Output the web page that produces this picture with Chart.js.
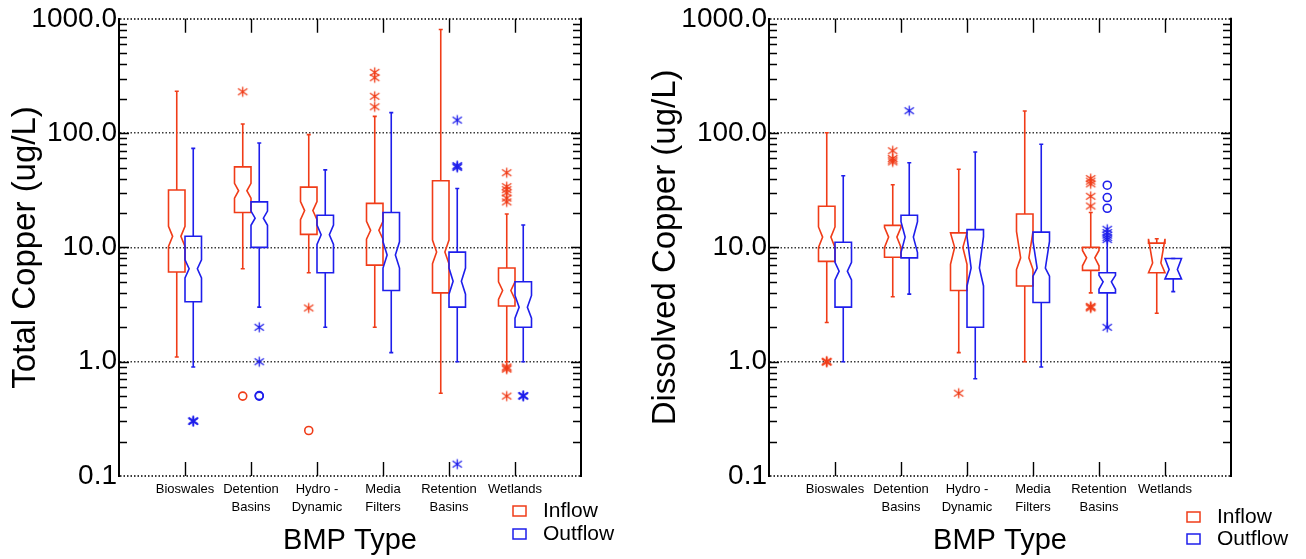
<!DOCTYPE html>
<html>
<head>
<meta charset="utf-8">
<script src="https://cdn.jsdelivr.net/npm/chart.js@4.4.1/dist/chart.umd.min.js"></script>
<style>
html, body { margin: 0; padding: 0; background: #fff; }
#wrap { position: relative; width: 1306px; height: 559px; overflow: hidden; }
canvas { position: absolute; top: 0; }
#totalChart { left: 0; }
#dissolvedChart { left: 640px; }
</style>
</head>
<body>
<div id="wrap">
  <canvas id="totalChart" width="640" height="559"></canvas>
  <canvas id="dissolvedChart" width="666" height="559"></canvas>
</div>
<script>
// categories and axis ticks
const categories = ['Bioswales', ['Detention', 'Basins'], ['Hydro -', 'Dynamic'], ['Media', 'Filters'], ['Retention', 'Basins'], 'Wetlands'];
const yTickValues = [0.1, 1, 10, 100, 1000];

// Total copper: [min whisker, Q1, median, Q3, max whisker]
const totalInflow = [
  [1.1, 6.1, 12.5, 31.8, 232],
  [6.5, 20.2, 31.3, 50.6, 120],
  [6.0, 13, 21, 33.7, 97],
  [2.0, 7.0, 14.1, 24.3, 140],
  [0.53, 4.0, 9.1, 38.3, 807],
  [1.0, 3.07, 4.2, 6.6, 19.6]
];
const totalInflowNotch = [[10.2, 15.3], [27, 36.4], [17.5, 25.2], [11.8, 16.9], [7.2, 11.6], [3.5, 5.0]];
const totalInflowStars = [[], [230], [2.95], [340, 305, 210, 170], [], [45, 34, 32, 30, 27, 25, 0.9, 0.88, 0.86, 0.5]];
const totalInflowCircles = [[], [0.5], [0.25], [], [], []];

const totalOutflow = [
  [0.9, 3.35, 6.5, 12.5, 73.5],
  [3.0, 10.0, 18, 25, 82],
  [2.0, 6.0, 12.9, 19.1, 47.7],
  [1.2, 4.2, 8.6, 20.2, 151],
  [1.0, 3.0, 5.06, 9.1, 32.8],
  [1.0, 2.0, 3.0, 5.0, 15.7]
];
const totalOutflowNotch = [[5.4, 7.8], [15.6, 20.8], [10.6, 15.7], [6.6, 11.2], [3.9, 6.6], [2.4, 3.8]];
const totalOutflowStars = [[0.3, 0.302, 0.305], [2.0, 1.0], [], [], [130, 52, 51, 50, 0.127], [0.5, 0.502, 0.505]];
const totalOutflowCircles = [[], [0.5, 0.505], [], [], [], []];

// Dissolved copper
const dissolvedInflow = [
  [2.2, 7.55, 12.3, 22.9, 100.6],
  [3.7, 8.2, 12.3, 15.6, 35.3],
  [1.2, 4.2, 10.0, 13.4, 48.3],
  [1.0, 4.6, 8.1, 19.6, 156],
  [4.0, 6.3, 8.1, 10.0, 20.2],
  [2.65, 6.0, 7.3, 10.9, 11.9]
];
const dissolvedInflowNotch = [[10.0, 15.1], [10.0, 15.0], [7.1, 13.4], [6.4, 13.8], [6.9, 9.4], [6.0, 11.9]];
const dissolvedInflowStars = [[1.0, 1.01, 0.99], [70, 60, 58, 56], [0.53], [], [40, 38, 36, 28, 23, 3.05, 3.0, 2.95], []];
const dissolvedInflowCircles = [[], [], [], [], [], []];

const dissolvedOutflow = [
  [1.0, 3.0, 6.2, 11.1, 42.3],
  [3.9, 8.1, 12.3, 19.1, 55],
  [0.71, 2.0, 6.6, 14.3, 68.4],
  [0.9, 3.3, 6.6, 13.6, 80],
  [2.0, 4.0, 5.0, 6.0, 11.5],
  [4.1, 5.3, 6.4, 8.0, 8.0]
];
const dissolvedOutflowNotch = [[5.2, 7.4], [9.0, 16.8], [4.6, 12.4], [5.6, 11.3], [4.3, 5.7], [5.3, 8.0]];
const dissolvedOutflowStars = [[], [157], [], [], [14.4, 13.5, 12.8, 12.2, 11.7, 2.0], []];
const dissolvedOutflowCircles = [[], [], [], [], [35, 27.3, 22], []];

const RED = 'rgb(240,60,24)';
const BLUE = 'rgb(30,30,235)';
const OFFSET = 0.125;   // half a box width, in category units

Chart.defaults.font.family = "'Liberation Sans', Arial, Helvetica, sans-serif";
Chart.defaults.color = '#000';

function starImage(color) {
  const c = document.createElement('canvas');
  c.width = 13; c.height = 13;
  const g = c.getContext('2d');
  g.strokeStyle = color;
  g.lineWidth = 1.3;
  g.beginPath();
  g.moveTo(6.5, 1.5); g.lineTo(6.5, 11.5);
  g.moveTo(1.8, 3.3); g.lineTo(11.2, 9.7);
  g.moveTo(1.8, 9.7); g.lineTo(11.2, 3.3);
  g.stroke();
  return c;
}

function toPoints(lists, shift) {
  const pts = [];
  lists.forEach((vals, i) => vals.forEach(v => pts.push({ x: i + 1 + shift, y: v })));
  return pts;
}

const boxPlugin = {
  id: 'boxes',
  beforeDatasetsDraw(chart, args, opts) {
    const ctx = chart.ctx;
    const xs = chart.scales.x, ys = chart.scales.y;
    const area = chart.chartArea;
    const y = v => ys.getPixelForValue(v);

    ctx.save();
    // minor / major y ticks on both sides
    ctx.strokeStyle = '#000';
    ctx.lineWidth = 1.4;
    ctx.beginPath();
    for (let d = 0.1; d < 999; d *= 10) {
      for (let k = 1; k <= 9; k++) {
        if (d * k < 0.11 && k === 1) continue;
        const py = Math.round(y(d * k)) + 0.5;
        const len = k === 1 ? 10 : 8;
        ctx.moveTo(area.left, py); ctx.lineTo(area.left + len, py);
        ctx.moveTo(area.right, py); ctx.lineTo(area.right - len, py);
      }
    }
    // category ticks top and bottom
    for (let i = 1; i <= categories.length; i++) {
      const px = Math.round(xs.getPixelForValue(i)) + 0.5;
      ctx.moveTo(px, area.top); ctx.lineTo(px, area.top + 14);
      ctx.moveTo(px, area.bottom); ctx.lineTo(px, area.bottom - 14);
    }
    ctx.stroke();
    // right border
    ctx.lineWidth = 2;
    ctx.beginPath();
    ctx.moveTo(area.right, area.top - 1); ctx.lineTo(area.right, area.bottom + 1);
    ctx.stroke();

    // notched boxes
    opts.series.forEach(s => {
      ctx.strokeStyle = s.color;
      ctx.lineWidth = 1.6;
      s.stats.forEach((st, i) => {
        const [lo, q1, med, q3, hi] = st;
        const [nLo, nHi] = s.notch[i];
        const c = i + 1 + s.shift;
        const xl = xs.getPixelForValue(c - OFFSET);
        const xr = xs.getPixelForValue(c + OFFSET);
        const xc = xs.getPixelForValue(c);
        const inset = (xr - xl) * 0.25;
        ctx.beginPath();
        ctx.moveTo(xl, y(q1));
        ctx.lineTo(xl, y(nLo));
        ctx.lineTo(xl + inset, y(med));
        ctx.lineTo(xl, y(nHi));
        ctx.lineTo(xl, y(q3));
        ctx.lineTo(xr, y(q3));
        ctx.lineTo(xr, y(nHi));
        ctx.lineTo(xr - inset, y(med));
        ctx.lineTo(xr, y(nLo));
        ctx.lineTo(xr, y(q1));
        ctx.closePath();
        ctx.stroke();
        // whiskers with caps
        ctx.beginPath();
        ctx.moveTo(xc, y(q3)); ctx.lineTo(xc, y(hi));
        ctx.moveTo(xc, y(q1)); ctx.lineTo(xc, y(lo));
        ctx.moveTo(xc - 2, y(hi)); ctx.lineTo(xc + 2, y(hi));
        ctx.moveTo(xc - 2, y(lo)); ctx.lineTo(xc + 2, y(lo));
        ctx.stroke();
      });
    });
    ctx.restore();
  },
  afterDraw(chart, args, opts) {
    const ctx = chart.ctx;
    const lg = opts.legend;
    ctx.save();
    ctx.font = '21px ' + Chart.defaults.font.family;
    ctx.textBaseline = 'middle';
    opts.series.forEach((s, i) => {
      const cy = lg.y + i * lg.gap;
      ctx.strokeStyle = s.color;
      ctx.lineWidth = 1.5;
      ctx.strokeRect(lg.x, cy - 5, 13, 10);
      ctx.fillStyle = '#000';
      ctx.fillText(s.label, lg.x + 30, cy);
    });
    ctx.restore();
  }
};

function makeChart(id, title, inflow, outflow, legendPos, yWidth, padRight) {
  const series = [
    { label: 'Inflow', color: RED, shift: -OFFSET, stats: inflow.stats, notch: inflow.notch },
    { label: 'Outflow', color: BLUE, shift: OFFSET, stats: outflow.stats, notch: outflow.notch }
  ];
  return new Chart(document.getElementById(id), {
    type: 'scatter',
    data: {
      datasets: [
        { label: 'Inflow', data: toPoints(inflow.stars, -OFFSET), pointStyle: starImage(RED), pointRadius: 6 },
        { label: 'Inflow', data: toPoints(inflow.circles, -OFFSET), pointStyle: 'circle', pointRadius: 4,
          borderColor: RED, borderWidth: 1.6, backgroundColor: 'rgba(0,0,0,0)' },
        { label: 'Outflow', data: toPoints(outflow.stars, OFFSET), pointStyle: starImage(BLUE), pointRadius: 6 },
        { label: 'Outflow', data: toPoints(outflow.circles, OFFSET), pointStyle: 'circle', pointRadius: 4,
          borderColor: BLUE, borderWidth: 1.6, backgroundColor: 'rgba(0,0,0,0)' }
      ]
    },
    options: {
      responsive: false,
      animation: false,
      events: [],
      layout: { padding: { left: 0, right: padRight, top: 16, bottom: 0 } },
      plugins: {
        legend: { display: false },
        tooltip: { enabled: false },
        boxes: { series: series, legend: legendPos }
      },
      scales: {
        x: {
          type: 'linear',
          min: 0,
          max: 7,
          afterBuildTicks: scale => { scale.ticks = categories.map((c, i) => ({ value: i + 1 })); },
          afterFit: scale => { scale.height = 83; },
          grid: { display: false, drawTicks: false },
          border: { display: false },
          ticks: {
            autoSkip: false,
            maxRotation: 0,
            padding: 4,
            font: { size: 13, lineHeight: 1.4 },
            callback: value => categories[value - 1]
          },
          title: { display: true, text: 'BMP Type', font: { size: 29 }, padding: { top: 0, bottom: 1 } }
        },
        y: {
          type: 'logarithmic',
          min: 0.1,
          max: 1000,
          afterBuildTicks: scale => { scale.ticks = yTickValues.map(v => ({ value: v })); },
          afterFit: scale => { scale.width = yWidth; },
          grid: {
            drawTicks: false,
            color: '#3a3a3a',
            lineWidth: c => (c.tick && (c.tick.value === 0.1 || c.tick.value === 1000)) ? 2 : 1.5
          },
          border: { display: true, color: '#000', width: 2, dash: [1.5, 2] },
          ticks: {
            autoSkip: false,
            padding: 2,
            font: { size: 28 },
            callback: value => Number(value).toFixed(1)
          },
          title: { display: true, text: title, font: { size: 33 }, padding: { top: 6, bottom: 0 } }
        }
      }
    },
    plugins: [boxPlugin]
  });
}

const totalChart = makeChart('totalChart', 'Total Copper (ug/L)',
  { stats: totalInflow, notch: totalInflowNotch, stars: totalInflowStars, circles: totalInflowCircles },
  { stats: totalOutflow, notch: totalOutflowNotch, stars: totalOutflowStars, circles: totalOutflowCircles },
  { x: 513, y: 511, gap: 23 }, 119, 59);

const dissolvedChart = makeChart('dissolvedChart', 'Dissolved Copper (ug/L)',
  { stats: dissolvedInflow, notch: dissolvedInflowNotch, stars: dissolvedInflowStars, circles: dissolvedInflowCircles },
  { stats: dissolvedOutflow, notch: dissolvedOutflowNotch, stars: dissolvedOutflowStars, circles: dissolvedOutflowCircles },
  { x: 547, y: 517, gap: 22 }, 129, 75);
</script>
</body>
</html>
